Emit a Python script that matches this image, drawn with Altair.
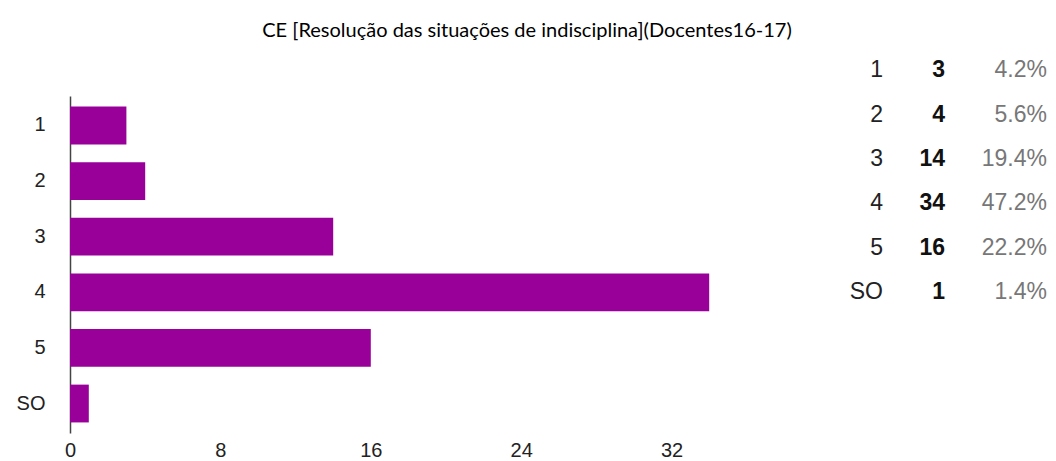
import altair as alt
import pandas as pd

categories = ["1", "2", "3", "4", "5", "SO"]
counts = [3, 4, 14, 34, 16, 1]
percents = ["4.2%", "5.6%", "19.4%", "47.2%", "22.2%", "1.4%"]
x_ticks = [0, 8, 16, 24, 32]
title_text = "CE [Resolução das situações de indisciplina](Docentes16-17)"

df = pd.DataFrame({"cat": categories, "count": counts, "pct": percents})
df["count_txt"] = df["count"].astype(str)

FONT = "Liberation Sans"

bars = alt.Chart(df).mark_bar(color="#990099").encode(
    x=alt.X("count:Q",
            scale=alt.Scale(domain=[0, 40], nice=False),
            axis=alt.Axis(values=x_ticks, domain=False, ticks=False, grid=False,
                          title=None, labelFontSize=20, labelColor="#222",
                          labelFont=FONT, labelPadding=7, labelFlush=False)),
    y=alt.Y("cat:N", sort=categories,
            scale=alt.Scale(paddingInner=0.32, paddingOuter=0.19),
            axis=alt.Axis(title=None, ticks=False, labelPadding=25, labelFontSize=20,
                          labelColor="#222", labelFont=FONT, domainColor="#444",
                          domainWidth=1.5, minExtent=62)),
)

ty = alt.Y("cat:N", sort=categories,
           scale=alt.Scale(type="point", domain=categories, range=[-48, 218], padding=0.5),
           axis=None)

# table columns: label | count | percent
tx = alt.X("col:N",
           scale=alt.Scale(type="point", domain=["label", "count", "pct"],
                           range=[813, 977], padding=0),
           axis=None)

t_label = alt.Chart(df).transform_calculate(col="'label'").mark_text(
    align="right", baseline="middle", fontSize=23, font=FONT,
    color="#222").encode(x=tx, y=ty, text="cat:N")
t_count = alt.Chart(df).transform_calculate(col="'count'").mark_text(
    align="right", baseline="middle", fontSize=23, font=FONT, fontWeight="bold",
    color="#111", dx=-20).encode(x=tx, y=ty, text="count_txt:N")
t_pct = alt.Chart(df).transform_calculate(col="'pct'").mark_text(
    align="right", baseline="middle", fontSize=23, font=FONT,
    color="#777").encode(x=tx, y=ty, text="pct:N")

table = alt.layer(t_label, t_count, t_pct)

chart = alt.layer(bars, table).resolve_scale(
    x="independent", y="independent"
).properties(
    width=752, height=337,
    title=alt.TitleParams(title_text, font="Lato", fontSize=20, fontWeight="normal",
                          color="#000", anchor="middle", offset=18, dx=81),
    padding={"left": 0, "top": 13, "right": 0, "bottom": 0},
).configure_view(stroke=None)

chart.save("out.html", embed_options={"renderer": "svg", "actions": False})
